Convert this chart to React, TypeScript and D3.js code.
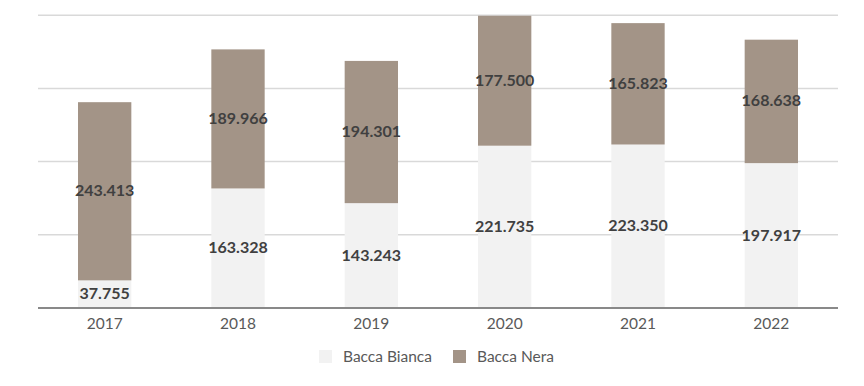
import * as React from 'react';
import * as d3 from 'd3';

const years = ['2017', '2018', '2019', '2020', '2021', '2022'];
const bianca = [37755, 163328, 143243, 221735, 223350, 197917];
const nera = [243413, 189966, 194301, 177500, 165823, 168638];
const seriesNames = ['Bacca Bianca', 'Bacca Nera'];
const gridTicks = [100000, 200000, 300000, 400000];

const colors = ['#f2f2f2', '#a39487'];
const fmt = (v: number) => d3.format(',')(v).replace(/,/g, '.');

const width = 864;
const height = 386;

const App = () => {
  const rows = years.map((y, i) => ({ year: y, bianca: bianca[i], nera: nera[i] }));
  const stack = d3.stack<any>().keys(['bianca', 'nera']);
  const layers = stack(rows);

  const x = d3.scaleBand().domain(years).range([38, 838]).paddingInner(0.6).paddingOuter(0.3);
  const y = d3.scaleLinear().domain([0, 400000]).range([308, 15.2]);

  return (
    <svg width={width} height={height} style={{ position: 'absolute', left: 0, top: 0 }}>
      <rect width={width} height={height} fill='white' />
      {gridTicks.map((t) => (
        <line key={t} x1={38} x2={838} y1={y(t)} y2={y(t)} stroke='#d9d9d9' strokeWidth={1.5} />
      ))}
      {layers.map((layer, li) => (
        <g key={layer.key}>
          {layer.map((d, i) => (
            <rect
              key={i}
              x={x(years[i])}
              y={y(d[1])}
              width={x.bandwidth()}
              height={y(d[0]) - y(d[1])}
              fill={colors[li]}
            />
          ))}
        </g>
      ))}
      {layers.map((layer, li) => (
        <g key={'l' + layer.key}>
          {layer.map((d, i) => (
            <text
              key={i}
              x={(x(years[i]) as number) + x.bandwidth() / 2}
              y={y((d[0] + d[1]) / 2) - 1.5}
              textAnchor='middle'
              dominantBaseline='central'
              fontFamily='Lato, sans-serif'
              fontWeight='bold'
              fontSize='16'
              fill='#404040'>
              {fmt(d[1] - d[0])}
            </text>
          ))}
        </g>
      ))}
      <line x1={38} x2={838} y1={308} y2={308} stroke='#898989' strokeWidth={2} />
      {years.map((yr) => (
        <text
          key={yr}
          x={(x(yr) as number) + x.bandwidth() / 2}
          y={322.5}
          textAnchor='middle'
          dominantBaseline='central'
          fontFamily='Lato, sans-serif'
          fontSize='15.5'
          fill='#595959'>
          {yr}
        </text>
      ))}
      <g transform='translate(319 350)'>
        {seriesNames.map((name, i) => (
          <g key={name} transform={`translate(${i * 134} 0)`}>
            <rect width={13} height={13} fill={colors[i]} />
            <text
              x={24}
              y={6}
              dominantBaseline='central'
              fontFamily='Lato, sans-serif'
              fontSize='15.5'
              fill='#595959'>
              {name}
            </text>
          </g>
        ))}
      </g>
    </svg>
  );
};

export default App;
